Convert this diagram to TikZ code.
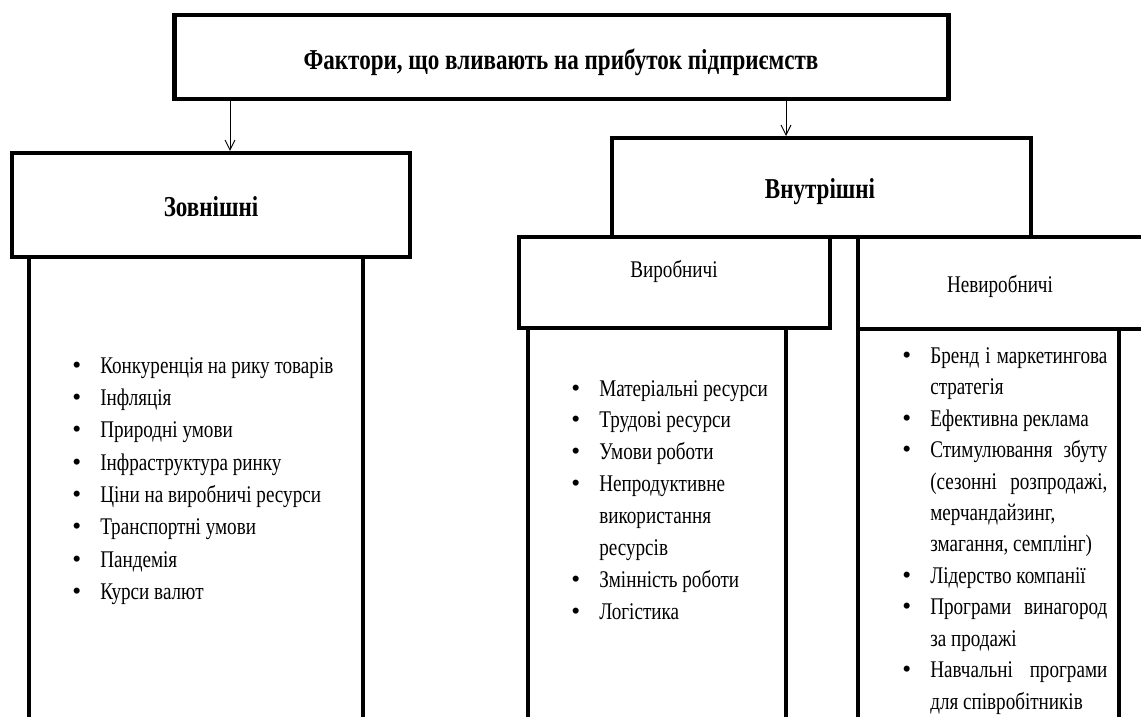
\documentclass[tikz,border=0pt]{standalone}
\usepackage{fontspec}
\setmainfont{Liberation Serif}[FakeStretch=0.8]
\newfontfamily\bulfont{Liberation Serif}
\usetikzlibrary{arrows.meta}

\newcommand{\firstbul}{\hangindent=0.7cm\hangafter=1\makebox[0.7cm][l]{{\bulfont\fontsize{18}{18}\selectfont\textbullet}}}
\newcommand{\bul}{\par\noindent\firstbul}

\begin{document}
\begin{tikzpicture}[x=0.025cm,y=-0.025cm,>={Straight Barb[length=7pt,width=7pt]},
  box/.style={draw,line width=2.85pt,fill=white,inner sep=0pt},
  lbl/.style={inner sep=0pt,font=\fontsize{17}{22.7}\selectfont},
  hlbl/.style={inner sep=0pt,font=\fontsize{20.5}{24}\selectfont\bfseries},
  lst/.style={anchor=base west,inner sep=0pt,font=\fontsize{17}{22.7}\selectfont}]
\useasboundingbox (0,0) rectangle (1141,716);
\clip (0,0) rectangle (1141,716);

% bodies of the columns
\path
(196,528.5)  node[box,minimum width=8.35cm,minimum height=13.575cm] (zovnbody) {}
(657,564)    node[box,minimum width=6.45cm,minimum height=11.8cm]   (vyrbody) {}
(988.5,564.5) node[box,minimum width=6.525cm,minimum height=11.775cm] (nevyrbody) {};

% headers
\path
(561.5,57)  node[box,line width=3.5pt,minimum width=19.325cm,minimum height=2.1cm] (top) {}
(211,205)   node[box,minimum width=9.95cm,minimum height=2.6cm]   (zovn) {}
(821.5,187.5) node[box,minimum width=10.475cm,minimum height=2.475cm] (vnutr) {}
(674.5,282.5) node[box,minimum width=7.775cm,minimum height=2.275cm] (vyr) {}
(1029,283)  node[box,minimum width=8.55cm,minimum height=2.3cm]   (nevyr) {};

\node[hlbl] (toplbl) at (561,62) {Фактори, що вливають на прибуток підприємств};
\node[hlbl] (zovnlbl) at (211,207) {Зовнішні};
\node[hlbl] (vnutrlbl) at (820,192) {Внутрішні};
\node[lbl] (vyrlbl) at (674,271) {Виробничі};
\node[lbl] (nevyrlbl) at (1000,286) {Невиробничі};

\coordinate (zarr) at (230,0);
\coordinate (varr) at (786,0);
\draw[->,line width=0.7pt] (top.south -| zarr) -- (zovn.north -| zarr);
\draw[->,line width=0.7pt] (top.south -| varr) -- (vnutr.north -| varr);

% lists
\node[lst,text width=7cm,align=flush left,font=\fontsize{17}{23}\selectfont] (zovnlist) at (72,373) {%
\firstbul Конкуренція на рику товарів
\bul Інфляція
\bul Природні умови
\bul Інфраструктура ринку
\bul Ціни на виробничі ресурси
\bul Транспортні умови
\bul Пандемія
\bul Курси валют\par};

\node[lst,text width=5cm,align=flush left] (vyrlist) at (571,396) {%
\firstbul Матеріальні ресурси
\bul Трудові ресурси
\bul Умови роботи
\bul Непродуктивне\linebreak використання\linebreak ресурсів
\bul Змінність роботи
\bul Логістика\par};

\node[lst,text width=5.125cm,align=justify,font=\fontsize{17}{22.4}\selectfont] (nevyrlist) at (902,363) {%
\firstbul Бренд і маркетингова\linebreak стратегія
\bul Ефективна реклама
\bul Стимулювання збуту\linebreak (сезонні розпродажі,\linebreak мерчандайзинг,\linebreak змагання, семплінг)
\bul Лідерство компанії
\bul Програми винагород\linebreak за продажі
\bul Навчальні програми\linebreak для співробітників\par};
\end{tikzpicture}
\end{document}
